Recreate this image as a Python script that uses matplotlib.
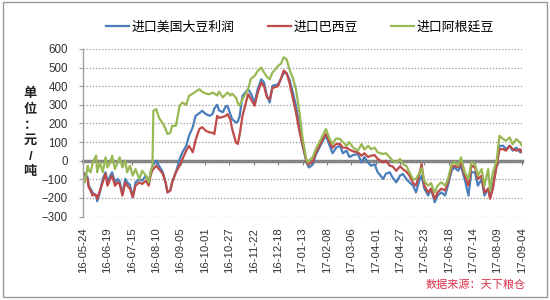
import matplotlib
matplotlib.use("Agg")
import matplotlib.pyplot as plt
import matplotlib.dates as mdates
import numpy as np
import datetime as dt

plt.rcParams['font.family'] = ['Liberation Sans', 'Noto Sans CJK SC', 'DejaVu Sans']

start_date = "2016-05-24"
day_offsets = [0, 2, 5, 6, 8, 10, 12, 14, 15, 18, 21, 24, 26, 29, 31, 34, 37, 39, 42, 45, 47, 50, 53, 56, 60, 63, 67, 70, 72, 74,
               75, 78, 81, 85, 88, 90, 93, 95, 99, 103, 106, 110, 113, 117, 120, 124, 127, 131, 135, 138, 140, 143, 145, 149, 152,
               154, 157, 159, 163, 165, 167, 170, 176, 179, 183, 186, 190, 193, 196, 199, 202, 208, 211, 214, 217, 220, 224, 227,
               231, 234, 238, 240, 241, 245, 248, 252, 256, 259, 263, 266, 270, 274, 277, 281, 284, 288, 293, 297, 300, 304, 307,
               311, 314, 320, 323, 327, 330, 334, 338, 341, 345, 348, 352, 355, 359, 361, 364, 368, 371, 375, 378, 382, 386, 389,
               393, 396, 400, 403, 407, 411, 414, 418, 421, 425, 428, 432, 434, 437, 441, 444, 448, 451, 455, 458, 462, 466, 468]

us_profit = [-62, -70, -90, -134, -150, -170, -180, -190, -218, -170, -98, -62, -116, -80, -62, -116, -98, -110, -178, -98,
             -116, -130, -196, -116, -98, -107, -80, -125, -62, -30,
             -18, 0, -27, -62, -116, -170, -160, -116, -62, 9, 45, 80, 134, 180, 241, 255, 268, 250, 241, 250, 280, 300, 270,
             260, 290, 295, 250, 223, 205, 210, 240, 348, 384, 360, 312, 380, 437, 420, 350, 312, 402, 410, 440, 470, 470, 437,
             360, 295, 180, 80, 0, -30, -36, -20, 30, 70, 110, 134, 80, 40, 70, 80, 40, 54, 20, 30, 36, -9, 20, -10, -27, -20,
             -60, -98, -70, -62, -90, -116, -80, -71, -100, -116, -134, -170, -100, -80, -150, -187, -150, -223, -187, -170,
             -187, -134, -54, -36, -54, -27, -100, -187, -62, -62, -134, -98, -187, -150, -200, -134, -20, 80, 80, 62, 80, 54,
             70, 45, 54]

brazil = [-70, -80, -100, -143, -160, -187, -180, -185, -205, -160, -116, -70, -134, -98, -80, -134, -116, -125, -187, -116,
          -134, -150, -196, -134, -116, -125, -107, -134, -80, -50,
          -45, -27, -45, -70, -116, -170, -160, -116, -62, -27, 9, 54, 80, 45, 110, 170, 180, 160, 152, 150, 143, 241, 230,
          235, 240, 250, 220, 170, 98, 90, 140, 240, 357, 330, 295, 360, 420, 400, 340, 330, 390, 400, 440, 484, 470, 420,
          330, 260, 150, 90, 0, -20, -18, -5, 40, 80, 120, 143, 100, 70, 90, 90, 70, 70, 60, 50, 45, 27, 40, 20, 27, 30, 10,
          -9, 0, -27, -30, -54, -30, -45, -60, -80, -120, -134, -62, -18, -134, -170, -150, -205, -170, -150, -160, -116,
          -36, -27, -36, -9, -80, -134, -27, -36, -98, -80, -170, -150, -205, -150, -30, 62, 62, 54, 80, 62, 54, 62, 45]

argentina = [-80, -116, -27, -50, -62, -20, 9, 27, -62, -9, -62, 18, -36, -9, 27, -45, -9, 18, -36, 0, -62, -27, -80, -45,
             -98, -54, -80, -116, -62, -27,
             268, 277, 230, 200, 170, 143, 150, 187, 187, 295, 312, 300, 348, 360, 370, 384, 370, 360, 357, 366, 360, 350,
             370, 340, 355, 366, 350, 360, 339, 310, 295, 330, 384, 440, 455, 480, 500, 473, 450, 437, 473, 509, 520, 555,
             545, 491, 440, 384, 250, 125, 9, -10, 0, 20, 60, 100, 140, 170, 116, 90, 120, 116, 100, 80, 100, 70, 54, 89, 60,
             80, 62, 70, 45, 36, 40, 18, 0, -9, 10, -18, -30, -62, -100, -98, -62, -40, -110, -134, -120, -170, -134, -116,
             -134, -100, -18, -9, -27, 18, -62, -98, -9, -18, -80, -45, -134, -45, -160, -62, 0, 134, 116, 107, 125, 89, 116,
             98, 80]

series_names = ["进口美国大豆利润", "进口巴西豆", "进口阿根廷豆"]
series_colors = ["#4A7EBB", "#BE4B48", "#98B954"]
y_ticks = [-300, -200, -100, 0, 100, 200, 300, 400, 500, 600]
tick_step_days = 26
n_ticks = 19

base = dt.datetime.strptime(start_date, "%Y-%m-%d")
dates = [base + dt.timedelta(days=d) for d in day_offsets]
tick_dates = [base + dt.timedelta(days=tick_step_days * i) for i in range(n_ticks)]

fig = plt.figure(figsize=(5.5, 3.0), dpi=100)
ax = fig.add_axes([0.151, 0.278, 0.798, 0.559])

for vals, name, col in zip([us_profit, brazil, argentina], series_names, series_colors):
    ax.plot(dates, vals, color=col, lw=1.6, label=name, solid_joinstyle='round')

ax.set_ylim(-300, 600)
ax.set_yticks(y_ticks)
ax.set_xlim(tick_dates[0], tick_dates[-1])
ax.set_xticks(tick_dates)
ax.xaxis.set_major_formatter(mdates.DateFormatter('%y-%m-%d'))
ax.tick_params(axis='x', length=0, pad=8, labelsize=8.2, labelrotation=90, colors='#333333')
ax.tick_params(axis='y', length=3, direction='out', labelsize=8.3, colors='#333333', pad=8)
for lbl in ax.get_xticklabels():
    lbl.set_verticalalignment('top')

ax.grid(axis='y', color='#9A9A9A', lw=0.9, linestyle=(0, (1, 1.5)))
ax.set_axisbelow(True)
for s in ['top', 'right', 'bottom']:
    ax.spines[s].set_visible(False)
ax.spines['left'].set_color('#A0A0A0')
ax.spines['left'].set_linewidth(1.0)
ax.tick_params(axis='y', color='#A0A0A0')

# zero axis line with tick marks
sec = ax.secondary_xaxis(1 / 3)
sec.set_xticks(tick_dates)
sec.tick_params(axis='x', length=3, direction='out', labelbottom=False, labeltop=False, color='#808080')
sec.spines['bottom'].set_color('#808080')
sec.spines['bottom'].set_linewidth(2.5)
sec.spines['top'].set_visible(False)

leg = ax.legend(loc='center', ncol=3, frameon=False,
                fontsize=9.3, handlelength=1.8, handletextpad=0.15, columnspacing=2.6)
leg.set_bbox_to_anchor((0.545, 0.908), transform=fig.transFigure)

fig.text(0.055, 0.557, "单\n位\n：\n元\n/\n吨", ha='center', va='center', fontsize=9.5, fontweight='bold',
         linespacing=1.4, color='#222222')

fig.text(0.955, 0.05, "数据来源：天下粮仓", ha='right', va='center', fontsize=8, color='#D8304A', style='italic')

border = plt.Rectangle((0.006, 0.01), 0.988, 0.985, transform=fig.transFigure, fill=False, edgecolor='#9A9A9A', lw=1)
fig.patches.append(border)

fig.savefig("out.png", dpi=100)
